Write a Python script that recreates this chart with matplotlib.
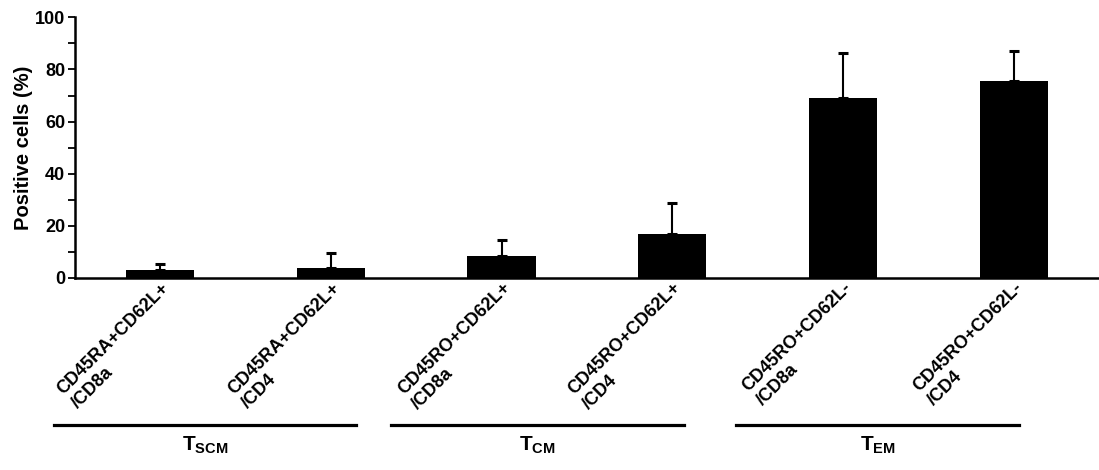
import matplotlib
matplotlib.use("Agg")
import matplotlib.pyplot as plt
import matplotlib.transforms as mtransforms
import numpy as np

plt.rcParams['font.family'] = ['Liberation Sans', 'DejaVu Sans']
plt.rcParams['font.weight'] = 'bold'
plt.rcParams['mathtext.fontset'] = 'custom'
plt.rcParams['mathtext.rm'] = 'Liberation Sans:bold'
plt.rcParams['mathtext.it'] = 'Liberation Sans:bold'
plt.rcParams['mathtext.bf'] = 'Liberation Sans:bold'

categories = ["CD45RA+CD62L+\n/CD8a", "CD45RA+CD62L+\n/CD4",
              "CD45RO+CD62L+\n/CD8a", "CD45RO+CD62L+\n/CD4",
              "CD45RO+CD62L-\n/CD8a", "CD45RO+CD62L-\n/CD4"]
means = [3.0, 3.6, 8.5, 17.0, 69.1, 75.6]
err_up = [2.4, 6.1, 6.0, 11.6, 17.1, 11.3]

groups = [r"$\mathrm{T}_{\mathrm{SCM}}$", r"$\mathrm{T}_{\mathrm{CM}}$", r"$\mathrm{T}_{\mathrm{EM}}$"]
group_spans = [(-0.62, 1.15), (1.354, 3.07), (3.375, 5.03)]

fig = plt.figure(figsize=(10.99, 4.70), dpi=100)
ax = fig.add_axes([0.068, 0.409, 0.932, 0.554])

x = np.arange(len(categories))
ax.bar(x, means, width=0.4, color='black')
ax.errorbar(x, means, yerr=[np.zeros(len(means)), err_up], fmt='none',
            ecolor='black', elinewidth=1.5, capsize=3.5, capthick=2.2)

ax.set_xlim(-0.5, 5.5)
ax.set_ylim(0, 100)
ax.set_yticks(range(0, 101, 20))
ax.set_yticks(range(10, 100, 20), minor=True)
ax.tick_params(axis='y', which='both', direction='out', length=5, width=1.3,
               labelsize=13, pad=2)
ax.tick_params(axis='x', length=0, pad=1)
ax.set_xticks(x)
ax.set_xticklabels(categories, rotation=45, ha='right', va='top',
                   rotation_mode='anchor', multialignment='left', fontsize=13,
                   linespacing=1.25)
for lab in ax.get_xticklabels():
    lab.set_fontweight('bold')
for lab in ax.get_yticklabels():
    lab.set_fontweight('bold')

ax.set_ylabel("Positive cells (%)", fontsize=14.5, fontweight='bold', labelpad=1)

for s in ['top', 'right']:
    ax.spines[s].set_visible(False)
ax.spines['left'].set_linewidth(1.8)
ax.spines['bottom'].set_linewidth(1.8)

trans = mtransforms.blended_transform_factory(ax.transData, ax.transAxes)
for name, (a, b) in zip(groups, group_spans):
    ax.plot([a, b], [-0.566, -0.566], color='black', lw=2.3,
            transform=trans, clip_on=False)
    ax.text((a + b) / 2, -0.645, name, transform=trans, ha='center',
            va='center', fontsize=15)

fig.savefig("out.png", dpi=100)
